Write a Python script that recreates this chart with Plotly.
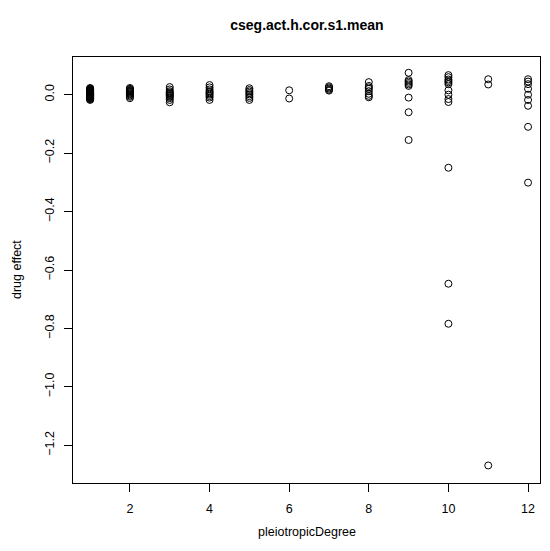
import plotly.graph_objects as go

# pleiotropic degree groups and drug effect values
deg1 = [0.023, 0.021, 0.019, 0.018, 0.016, 0.015, 0.013, 0.012, 0.010, 0.009,
        0.008, 0.006, 0.005, 0.004, 0.003, 0.002, 0.001, 0.000, -0.001, -0.002,
        -0.003, -0.004, -0.006, -0.007, -0.009, -0.010, -0.012, -0.014, -0.016, -0.018]
deg2 = [0.023, 0.020, 0.017, 0.014, 0.012, 0.010, 0.007, 0.004, 0.001, -0.003, -0.007, -0.012]
deg3 = [0.026, 0.018, 0.012, 0.008, 0.005, 0.002, -0.001, -0.004, -0.008, -0.012, -0.018, -0.026]
deg4 = [0.033, 0.025, 0.018, 0.012, 0.008, 0.004, 0.000, -0.005, -0.010, -0.018]
deg5 = [0.022, 0.016, 0.011, 0.006, 0.001, -0.005, -0.011, -0.018]
deg6 = [0.015, -0.013]
deg7 = [0.029, 0.025, 0.021, 0.017, 0.014]
deg8 = [0.043, 0.030, 0.025, 0.020, 0.012, 0.003, -0.004, -0.009]
deg9 = [0.075, 0.050, 0.045, 0.040, 0.035, 0.030, -0.010, -0.060, -0.155]
deg10 = [0.067, 0.060, 0.052, 0.047, 0.042, 0.036, 0.015, 0.000, -0.015, -0.025,
         -0.250, -0.647, -0.784]
deg11 = [0.053, 0.035, -1.269]
deg12 = [0.053, 0.045, 0.036, 0.020, 0.000, -0.018, -0.038, -0.110, -0.301]

groups = {1: deg1, 2: deg2, 3: deg3, 4: deg4, 5: deg5, 6: deg6,
          7: deg7, 8: deg8, 9: deg9, 10: deg10, 11: deg11, 12: deg12}

xs, ys = [], []
for k, vals in groups.items():
    xs += [k] * len(vals)
    ys += vals

x_ticks = [2, 4, 6, 8, 10, 12]
y_ticks = [0.0, -0.2, -0.4, -0.6, -0.8, -1.0, -1.2]
y_labels = ["0.0", "\u22120.2", "\u22120.4", "\u22120.6", "\u22120.8", "\u22121.0", "\u22121.2"]

FONT = "Liberation Sans, Arial, sans-serif"

fig = go.Figure()
fig.add_trace(go.Scatter(
    x=xs, y=ys, mode="markers",
    marker=dict(symbol="circle-open", size=7, color="black", line=dict(width=1, color="black")),
    showlegend=False, hoverinfo="x+y"))

fig.update_layout(
    width=550, height=551,
    margin=dict(l=73, r=10, t=57, b=68),
    paper_bgcolor="white", plot_bgcolor="white",
    font=dict(family=FONT, size=12, color="black"),
    title=dict(text="<b>cseg.act.h.cor.s1.mean</b>", x=0.558,
               xanchor="center", y=1 - 25 / 551, yanchor="middle",
               font=dict(family=FONT, size=14, color="black")),
)
fig.update_xaxes(range=[0.57, 12.3], tickvals=x_ticks, ticktext=[str(t) for t in x_ticks],
                 showgrid=False, zeroline=False, showline=True, linecolor="black", linewidth=1,
                 mirror=True, ticks="outside", ticklen=8, tickcolor="black",
                 ticklabelstandoff=6,
                 tickfont=dict(family=FONT, size=12.5, color="black"))
fig.update_yaxes(range=[-1.329, 0.129], tickvals=y_ticks, ticktext=y_labels, tickangle=-90,
                 showgrid=False, zeroline=False, showline=True, linecolor="black", linewidth=1,
                 mirror=True, ticks="outside", ticklen=8, tickcolor="black",
                 ticklabelstandoff=5,
                 tickfont=dict(family=FONT, size=12.5, color="black"))

fig.add_annotation(text="pleiotropicDegree", xref="paper", yref="paper",
                   x=0.5, y=-49 / 426, xanchor="center", yanchor="middle", showarrow=False,
                   font=dict(family=FONT, size=12.5, color="black"))
fig.add_annotation(text="drug effect", xref="paper", yref="paper", textangle=-90,
                   x=-56 / 467, y=0.5, xanchor="center", yanchor="middle", showarrow=False,
                   font=dict(family=FONT, size=12.5, color="black"))

fig.write_html("out.html")
